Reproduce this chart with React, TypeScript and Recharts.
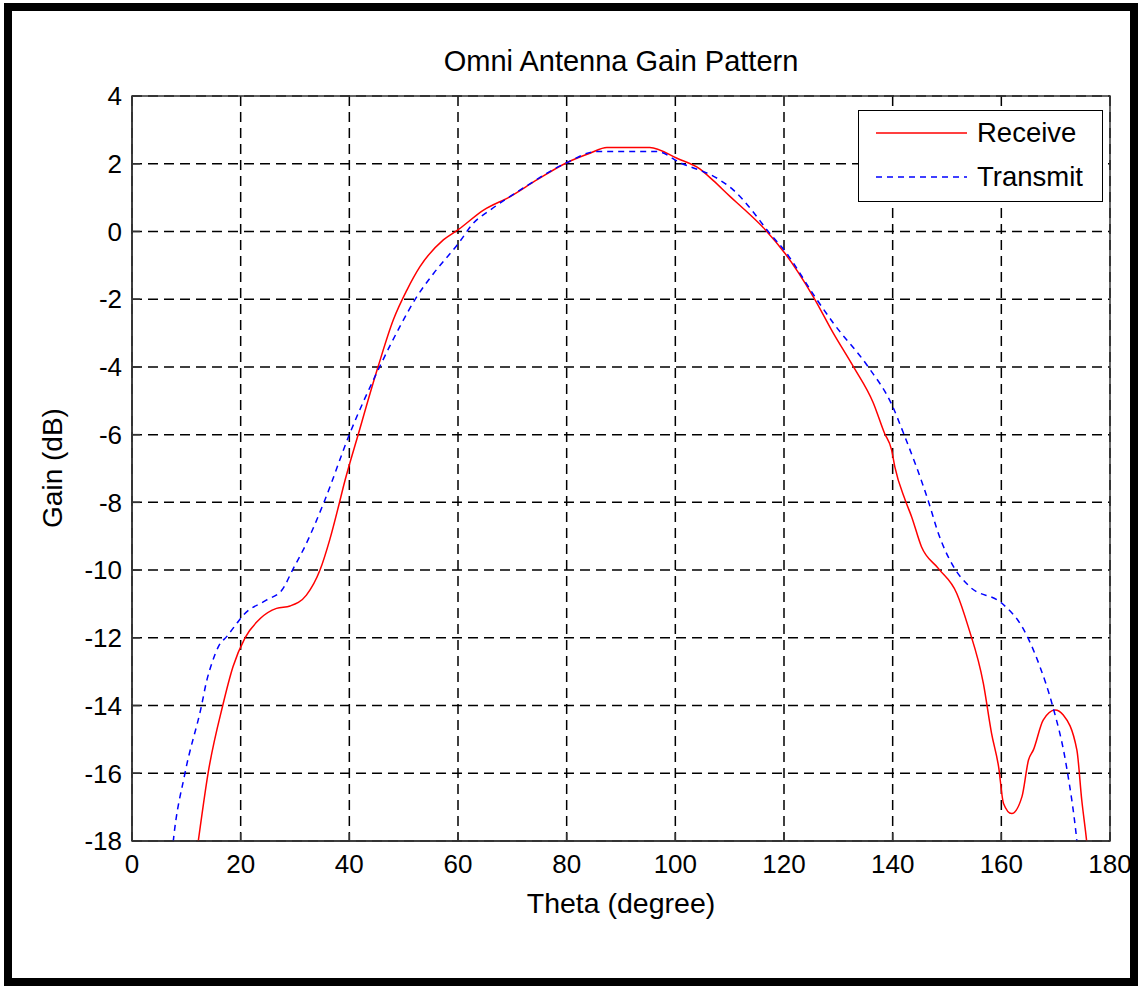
import React from 'react';
import { LineChart, Line, XAxis, YAxis, CartesianGrid, ReferenceArea } from 'recharts';

// values (theta in degrees, gain in dB)
const receiveTheta = [11.6, 12.2, 14.0, 16.7, 18.6, 20.8, 23.6, 26.6, 29.1, 32.1, 34.6, 36.4, 38.3, 38.9, 41.7, 45.3, 48.1, 50.6, 53.0, 57.3, 60.1, 64.7, 69.6, 74.5, 80.0, 84.3, 87.4, 95.3, 100.3, 104.5, 107.0, 110.1, 112.5, 116.5, 120.2, 125.4, 129.1, 132.8, 136.4, 138.5, 139.8, 140.4, 142.3, 143.5, 145.3, 148.4, 151.8, 153.9, 156.7, 158.2, 159.5, 160.4, 161.9, 163.8, 165.0, 165.9, 167.7, 169.9, 171.4, 173.9, 174.8, 175.7, 176.3];
const receiveGain = [-18.7, -18, -16, -14, -12.85, -12, -11.43, -11.13, -11.06, -10.74, -10, -9.1, -7.93, -7.54, -5.96, -3.99, -2.61, -1.73, -1.04, -0.25, 0.06, 0.63, 1.03, 1.52, 2.03, 2.31, 2.48, 2.48, 2.16, 1.85, 1.5, 1.03, 0.68, 0.06, -0.65, -1.93, -3.01, -4.0, -5.05, -5.96, -6.45, -6.95, -7.93, -8.43, -9.31, -9.95, -10.69, -11.67, -13.35, -14.82, -15.81, -16.89, -17.19, -16.69, -15.61, -15.31, -14.43, -14.13, -14.28, -15.31, -16.79, -18, -19];

const transmitTheta = [7.0, 7.6, 9.75, 12.8, 13.7, 14.7, 15.9, 17.5, 19.3, 20.5, 24.8, 27.6, 29.7, 31.8, 35.5, 40.1, 45.6, 49.3, 52.4, 55.5, 60.1, 62.8, 65.9, 71.4, 80.0, 85.5, 96.6, 100.9, 108.2, 110.7, 112.5, 114.3, 116.8, 120.5, 125.7, 129.1, 135.5, 139.8, 142.0, 146.6, 148.4, 151.2, 154.2, 160.1, 163.8, 167.1, 169.3, 172.0, 173.9, 174.5];
const transmitGain = [-19, -18, -16, -14, -13.3, -12.75, -12.26, -11.95, -11.57, -11.33, -10.88, -10.59, -9.95, -9.31, -7.93, -5.96, -3.99, -2.81, -1.93, -1.24, -0.35, 0.24, 0.63, 1.22, 2.03, 2.36, 2.36, 2.03, 1.52, 1.22, 0.93, 0.58, 0.06, -0.65, -1.93, -2.71, -4.0, -5.1, -5.96, -7.98, -8.91, -9.9, -10.49, -10.98, -11.67, -12.85, -13.93, -15.81, -18, -19];

const xTicks = [0, 20, 40, 60, 80, 100, 120, 140, 160, 180];
const yTicks = [-18, -16, -14, -12, -10, -8, -6, -4, -2, 0, 2, 4];

const receiveData = receiveTheta.map((t, i) => ({ theta: t, gain: receiveGain[i] }));
const transmitData = transmitTheta.map((t, i) => ({ theta: t, gain: transmitGain[i] }));

const FONT = '"Liberation Sans", Arial, sans-serif';

export default function App() {
    return (
        <div style={{ position: 'absolute', left: 0, top: 0, width: 1139, height: 987, background: '#fff', fontFamily: FONT }}>
            <div style={{ position: 'absolute', left: 4, top: 3, width: 1134, height: 983, border: '8px solid #000', boxSizing: 'border-box' }} />
            <LineChart
                width={1139}
                height={987}
                margin={{ top: 96, right: 29, left: 52, bottom: 106 }}
                style={{ position: 'absolute', left: 0, top: 0 }}
            >
                <CartesianGrid stroke="#000" strokeDasharray="10 6" strokeWidth={1.5} />
                <XAxis
                    type="number"
                    dataKey="theta"
                    domain={[0, 180]}
                    ticks={xTicks}
                    allowDataOverflow
                    height={40}
                    stroke="#333"
                    strokeWidth={1.5}
                    tickSize={-8}
                    tickMargin={22}
                    tick={{ fill: '#000', fontSize: 26, fontFamily: FONT }}
                />
                <YAxis
                    type="number"
                    dataKey="gain"
                    domain={[-18, 4]}
                    ticks={yTicks}
                    allowDataOverflow
                    width={80}
                    stroke="#333"
                    strokeWidth={1.5}
                    tickSize={-8}
                    tickMargin={18}
                    tick={{ fill: '#000', fontSize: 26, fontFamily: FONT }}
                />
                <ReferenceArea x1={0} x2={180} y1={-18} y2={4} fill="none" stroke="#333" strokeWidth={1.5} />
                <Line data={receiveData} dataKey="gain" type="monotone" stroke="#ff0000" strokeWidth={1.5} dot={false} isAnimationActive={false} />
                <Line data={transmitData} dataKey="gain" type="monotone" stroke="#0000ff" strokeWidth={1.5} strokeDasharray="6 5" dot={false} isAnimationActive={false} />
            </LineChart>

            <div style={{ position: 'absolute', left: 0, width: 1242, top: 43, textAlign: 'center', fontSize: 29, lineHeight: '36px', color: '#000' }}>
                Omni Antenna Gain Pattern
            </div>
            <div style={{ position: 'absolute', left: 0, width: 1242, top: 885, textAlign: 'center', fontSize: 28.5, lineHeight: '36px', color: '#000' }}>
                Theta (degree)
            </div>
            <div style={{ position: 'absolute', left: 53, top: 468, transform: 'translate(-50%, -50%) rotate(-90deg)', whiteSpace: 'nowrap', fontSize: 28, lineHeight: '34px', color: '#000' }}>
                Gain (dB)
            </div>

            <div style={{ position: 'absolute', left: 858, top: 110, width: 245, height: 92, border: '1.5px solid #000', background: '#fff', boxSizing: 'border-box' }}>
                <svg width={110} height={92} style={{ position: 'absolute', left: 0, top: 0 }}>
                    <line x1={17} x2={108} y1={22} y2={22} stroke="#ff0000" strokeWidth={1.5} />
                    <line x1={17} x2={108} y1={66} y2={66} stroke="#0000ff" strokeWidth={1.5} strokeDasharray="6 5" />
                </svg>
                <div style={{ position: 'absolute', left: 118, top: 6, fontSize: 27.5, lineHeight: '32px', color: '#000' }}>Receive</div>
                <div style={{ position: 'absolute', left: 118, top: 50, fontSize: 27.5, lineHeight: '32px', color: '#000' }}>Transmit</div>
            </div>
        </div>
    );
}
